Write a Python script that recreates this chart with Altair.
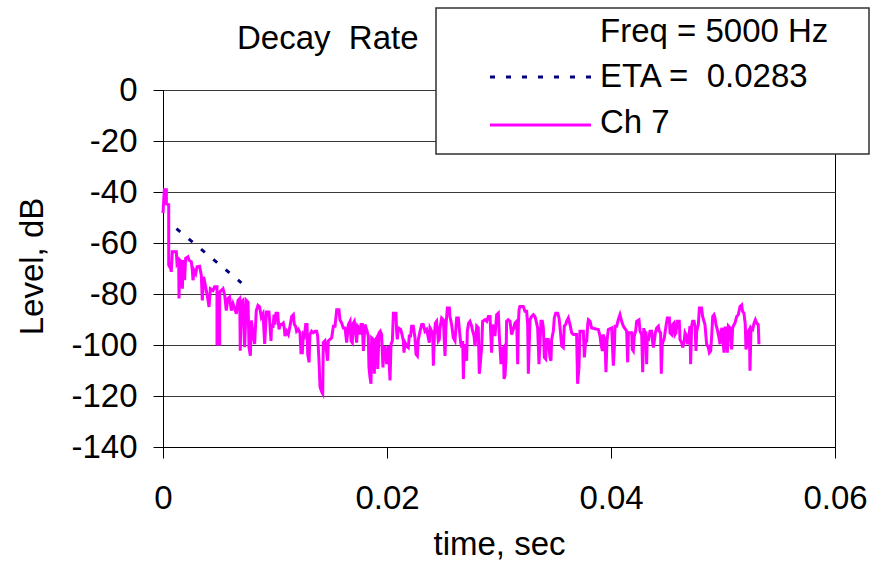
import altair as alt
import pandas as pd

FONT = "Liberation Sans"

# ---- data: (time in ms, level in dB) ----
seg_a = [(0.00, -48.3), (0.12, -39.1), (0.30, -39.1), (0.30, -44.6), (0.51, -45.0), (0.51, -68.7),
         (0.68, -70.0), (0.74, -71.3), (0.83, -63.4), (1.19, -63.4), (1.25, -68.0), (1.40, -66.7),
         (1.43, -81.8), (1.49, -66.7), (1.64, -67.4), (1.73, -77.9), (1.79, -66.7), (1.93, -74.6),
         (2.02, -66.0), (2.23, -65.4), (2.32, -66.7), (2.53, -67.4), (2.62, -70.7), (2.68, -74.6),
         (2.77, -70.7), (2.92, -72.0), (3.04, -69.3), (3.27, -69.1), (3.42, -72.6), (3.51, -82.5),
         (3.63, -73.3), (3.87, -78.6), (4.02, -82.5), (4.11, -85.1), (4.23, -77.9), (4.46, -78.6),
         (4.61, -77.2), (4.82, -77.2), (4.82, -99.6), (5.06, -99.6), (5.06, -79.2), (5.21, -78.6),
         (5.36, -77.9), (5.51, -80.5), (5.65, -86.5), (5.80, -81.8), (5.95, -81.2), (6.10, -86.5),
         (6.25, -83.8), (6.40, -85.8), (6.55, -87.8), (6.70, -82.5), (6.85, -81.8), (6.90, -102.2),
         (6.99, -83.2), (7.14, -82.5), (7.29, -100.9), (7.44, -82.5), (7.59, -83.2), (7.68, -100.9),
         (7.80, -104.2), (7.89, -90.4), (8.04, -95.7), (8.18, -99.6), (8.33, -86.5), (8.48, -84.5),
         (8.63, -85.1), (8.78, -89.1), (8.93, -87.8), (9.08, -99.6), (9.23, -87.1), (9.46, -87.1)]

seg_b = [(9.55, -92.0), (9.64, -98.4), (9.70, -92.0), (9.82, -93.3), (9.91, -88.1), (10.00, -92.0),
         (10.09, -87.5), (10.24, -87.5), (10.30, -90.7), (10.36, -93.9), (10.45, -92.0), (10.60, -92.0),
         (10.74, -91.4), (10.83, -93.3), (10.89, -96.5), (11.04, -94.6), (11.19, -95.9), (11.34, -92.6),
         (11.49, -88.8), (11.64, -88.1), (11.73, -92.0), (11.84, -92.6), (11.93, -94.6), (12.08, -93.9),
         (12.23, -95.2), (12.32, -103.0), (12.44, -103.0), (12.53, -95.9), (12.62, -96.5), (12.74, -92.0),
         (12.86, -92.0), (12.92, -103.6), (13.04, -106.8), (13.12, -95.9), (13.27, -94.6), (13.42, -95.2),
         (13.57, -94.6), (13.72, -94.6), (13.81, -96.5), (13.93, -106.2), (14.02, -116.5), (14.17, -118.4),
         (14.26, -119.1), (14.31, -99.1), (14.46, -98.4), (14.61, -103.0), (14.70, -106.2), (14.76, -98.4),
         (14.91, -97.8), (15.06, -97.2), (15.21, -92.6), (15.36, -92.6), (15.51, -86.2), (15.71, -86.2),
         (15.80, -90.1), (15.95, -91.4), (16.10, -93.3), (16.25, -93.3), (16.40, -99.1), (16.55, -92.0),
         (16.70, -90.7), (16.79, -98.4), (16.90, -99.1), (16.99, -91.4), (17.08, -90.7), (17.14, -92.6),
         (17.29, -99.1), (17.38, -92.6), (17.50, -93.3), (17.59, -95.9), (17.68, -92.0), (17.80, -92.0),
         (17.89, -102.3), (18.03, -92.0), (18.18, -93.9), (18.33, -96.5), (18.39, -108.8), (18.48, -112.6),
         (18.57, -115.2), (18.63, -97.2), (18.78, -97.8), (18.87, -111.3), (18.93, -98.4), (19.08, -97.2),
         (19.17, -109.4), (19.29, -95.2), (19.40, -94.6), (19.52, -95.9), (19.64, -108.8), (19.73, -101.0),
         (19.82, -101.0), (19.97, -107.5), (20.12, -100.4), (20.27, -113.9), (20.36, -99.7), (20.48, -98.4)]

seg_c = [(20.57, -87.5), (20.80, -87.5), (20.86, -94.6), (20.92, -97.8), (21.01, -93.3), (21.22, -93.9),
         (21.34, -95.9), (21.46, -98.4), (21.52, -103.0), (21.61, -99.1), (21.76, -100.4), (21.90, -101.0),
         (21.99, -96.5), (22.11, -96.5), (22.20, -92.6), (22.35, -92.6), (22.50, -97.2), (22.59, -103.6),
         (22.71, -104.3), (22.80, -97.8), (22.95, -94.6), (23.10, -92.0), (23.24, -92.0), (23.39, -94.6),
         (23.54, -93.9), (23.69, -97.2), (23.78, -99.1), (23.84, -93.3), (23.99, -94.6), (24.08, -96.5),
         (24.14, -108.1), (24.23, -95.9), (24.32, -91.4), (24.43, -90.7), (24.58, -98.4), (24.67, -97.8),
         (24.73, -93.3), (24.88, -89.4), (25.03, -90.1), (25.18, -104.3), (25.27, -92.0), (25.39, -85.5),
         (25.57, -85.5), (25.62, -88.8), (25.77, -92.0), (25.92, -97.2), (26.07, -98.4), (26.22, -89.4),
         (26.37, -89.4), (26.46, -93.9), (26.58, -99.1), (26.67, -101.0), (26.76, -98.4), (26.82, -113.3),
         (26.87, -105.5), (26.99, -99.7), (27.11, -106.2), (27.17, -94.6), (27.29, -91.4), (27.41, -90.7),
         (27.56, -92.6), (27.65, -94.6), (27.77, -96.5), (27.86, -100.4), (28.01, -92.6), (28.15, -93.3),
         (28.24, -111.3), (28.30, -108.8), (28.45, -101.0), (28.54, -90.7), (28.75, -90.1), (28.90, -90.7),
         (29.05, -88.8), (29.20, -88.8), (29.34, -103.0), (29.43, -92.0), (29.55, -93.9), (29.64, -96.5),
         (29.79, -88.1), (29.94, -87.5), (30.03, -96.5), (30.18, -107.5), (30.27, -101.7), (30.39, -101.0),
         (30.45, -113.3), (30.54, -112.0), (30.63, -104.9), (30.68, -90.7), (30.83, -90.1), (30.98, -90.7),
         (31.13, -95.9), (31.28, -93.9), (31.43, -91.4), (31.58, -90.7), (31.67, -107.5), (31.73, -91.4)]

seg_d = [(31.79, -86.2), (31.87, -84.9), (32.17, -84.9), (32.32, -86.8), (32.47, -86.8), (32.56, -92.0),
         (32.62, -111.3), (32.68, -102.3), (32.77, -90.1), (32.92, -88.8), (33.07, -88.1), (33.21, -88.8),
         (33.36, -91.4), (33.45, -93.3), (33.57, -107.5), (33.66, -99.1), (33.75, -90.7), (33.87, -90.7),
         (33.96, -93.3), (34.05, -104.9), (34.17, -105.5), (34.26, -97.8), (34.40, -97.8), (34.55, -104.9),
         (34.64, -106.2), (34.70, -97.8), (34.85, -94.6), (34.94, -89.4), (35.06, -87.5), (35.24, -87.5),
         (35.36, -89.4), (35.45, -93.3), (35.60, -100.4), (35.74, -101.0), (35.83, -92.6), (35.95, -92.0),
         (36.04, -90.7), (36.19, -89.4), (36.34, -92.0), (36.49, -95.2), (36.64, -95.9), (36.93, -95.9),
         (37.02, -115.2), (37.14, -108.8), (37.23, -94.6), (37.53, -94.6), (37.62, -104.9), (37.74, -98.4),
         (37.83, -98.4), (37.92, -92.0), (37.98, -90.1), (38.13, -90.7), (38.27, -93.3), (38.87, -93.9),
         (39.02, -96.5), (39.11, -99.7), (39.23, -102.3), (39.29, -95.9), (39.46, -97.8), (39.55, -110.7),
         (39.64, -98.4), (39.76, -93.9), (40.06, -93.3), (40.21, -108.1), (40.30, -101.0), (40.36, -92.6),
         (40.51, -92.6), (40.65, -90.1), (40.80, -88.1), (40.95, -90.7), (41.10, -92.6), (41.40, -94.6),
         (41.49, -106.8), (41.55, -95.2), (41.85, -95.2), (41.90, -101.7), (41.99, -102.3), (42.08, -96.5),
         (42.20, -94.6), (42.29, -90.7), (42.50, -90.1), (42.59, -94.6), (42.74, -95.9), (42.83, -110.7),
         (42.92, -93.9)]

seg_e = [(42.95, -93.9), (43.07, -95.9), (43.12, -94.6), (43.18, -107.5), (43.24, -97.2), (43.33, -98.4),
         (43.48, -94.6), (43.63, -94.6), (43.72, -99.1), (43.78, -101.0), (43.87, -98.4), (43.96, -95.2),
         (44.08, -93.3), (44.23, -92.6), (44.31, -94.6), (44.43, -95.2), (44.49, -111.3), (44.58, -99.7),
         (44.67, -98.4), (44.76, -97.2), (44.91, -92.6), (45.03, -89.4), (45.21, -89.4), (45.27, -95.2),
         (45.42, -95.9), (45.51, -92.0), (45.62, -91.4), (45.71, -95.9), (45.80, -95.2), (45.92, -90.7),
         (46.10, -90.7), (46.16, -97.8), (46.31, -99.1), (46.40, -101.0), (46.52, -99.1), (46.61, -95.2),
         (46.76, -96.5), (46.84, -99.7), (46.93, -97.8), (47.05, -92.6), (47.11, -107.5), (47.20, -92.6),
         (47.29, -90.7), (47.41, -90.7), (47.50, -92.6), (47.59, -102.3), (47.65, -94.6), (47.80, -92.0),
         (47.89, -85.5), (48.09, -85.5), (48.18, -88.8), (48.30, -90.7), (48.39, -92.0), (48.54, -99.7),
         (48.69, -101.0), (48.78, -103.0), (48.90, -102.3), (48.99, -96.5), (49.08, -88.8), (49.20, -88.1),
         (49.29, -89.4), (49.37, -92.0), (49.49, -93.9), (49.58, -95.9), (49.67, -97.8), (49.73, -99.7),
         (49.82, -94.6), (49.91, -93.3), (50.03, -99.7), (50.09, -103.0), (50.18, -93.3), (50.27, -93.3),
         (50.39, -103.0), (50.48, -92.6), (50.62, -93.3), (50.77, -101.7), (50.86, -93.3), (50.98, -92.0),
         (51.07, -91.4), (51.22, -88.8), (51.37, -88.1), (51.52, -84.9), (51.67, -84.3), (51.75, -86.8),
         (51.87, -87.5), (51.99, -92.0), (52.05, -101.7), (52.11, -100.4), (52.26, -94.6), (52.35, -93.9),
         (52.41, -110.1), (52.50, -93.3), (52.65, -93.9), (52.77, -91.4), (52.89, -90.1), (53.01, -91.4),
         (53.15, -92.0), (53.21, -99.7)]

fit_time_ms = [1.2, 7.0]
fit_level_db = [-54.4, -75.6]

x_tick_values = [0, 0.02, 0.04, 0.06]
y_tick_values = [0, -20, -40, -60, -80, -100, -120, -140]
legend_labels = ["Freq = 5000 Hz", "ETA =\u00a0 0.0283", "Ch 7"]
chart_title = "Decay\u00a0 Rate"
x_title = "time, sec"
y_title = "Level, dB"

# ---- tables ----
trace_pts = seg_a + seg_b + seg_c + seg_d + seg_e
trace = pd.DataFrame({
    "i": list(range(len(trace_pts))),
    "t": [p[0] / 1000.0 for p in trace_pts],
    "L": [p[1] for p in trace_pts],
})
fit = pd.DataFrame({"t": [v / 1000.0 for v in fit_time_ms], "L": fit_level_db})
one_row = pd.DataFrame({"k": [0]})

xs = alt.Scale(domain=[0, 0.06], nice=False, zero=False)
ys = alt.Scale(domain=[-140, 0], nice=False)

x_axis = alt.Axis(values=x_tick_values, labelExpr="datum.value + ''", labelFlush=False,
                  labelOverlap=False, grid=False, tickSize=11, labelPadding=24,
                  labelFont=FONT, labelFontSize=33, labelColor="black",
                  titleFont=FONT, titleFontSize=33, titleFontWeight="normal", titleColor="black",
                  titleBaseline="alphabetic", titleY=107,
                  domainColor="black", tickColor="black")
y_axis = alt.Axis(values=y_tick_values, labelExpr="datum.value + ''", labelOverlap=False,
                  grid=True, gridColor="#3a3a3a", gridWidth=1, tickSize=10, labelPadding=16,
                  labelFont=FONT, labelFontSize=33, labelColor="black",
                  titleFont=FONT, titleFontSize=33, titleFontWeight="normal", titleColor="black",
                  titleAngle=270, titleBaseline="alphabetic", titleAlign="center",
                  titleX=-121, titleY=176,
                  domainColor="black", tickColor="black")

X = alt.X("t:Q", scale=xs, axis=x_axis, title=x_title)
Y = alt.Y("L:Q", scale=ys, axis=y_axis, title=y_title)

trace_line = alt.Chart(trace).mark_line(color="#FF00FF", strokeWidth=3).encode(
    x=X, y=Y, order="i:Q")
fit_line = alt.Chart(fit).mark_line(color="#000080", strokeWidth=3, strokeDash=[5, 11]).encode(
    x=X, y=Y)

title_text = alt.Chart(one_row).mark_text(
    text=chart_title, align="left", baseline="alphabetic", font=FONT, fontSize=33, color="black"
).encode(x=alt.value(74), y=alt.value(-41))

legend_box = alt.Chart(one_row).mark_rect(fill="white", stroke="#303030", strokeWidth=1.5).encode(
    x=alt.value(273), x2=alt.value(706), y=alt.value(-82), y2=alt.value(64))
legend_fit = alt.Chart(one_row).mark_rule(color="#000080", strokeWidth=3, strokeDash=[5, 11]).encode(
    x=alt.value(327), x2=alt.value(428), y=alt.value(-13))
legend_ch = alt.Chart(one_row).mark_rule(color="#FF00FF", strokeWidth=3).encode(
    x=alt.value(327), x2=alt.value(428), y=alt.value(35))

legend_texts = []
for lab, yb in zip(legend_labels, [-48, -3, 43]):
    legend_texts.append(
        alt.Chart(one_row).mark_text(text=lab, align="left", baseline="alphabetic",
                                     font=FONT, fontSize=33, color="black")
        .encode(x=alt.value(437), y=alt.value(yb)))

chart = alt.layer(trace_line, fit_line, title_text, legend_box, legend_fit, legend_ch,
                  *legend_texts).properties(
    width=672, height=357,
    autosize=alt.AutoSizeParams(type="none"),
    padding={"left": 163, "top": 90, "right": 46, "bottom": 117},
    background="white",
).configure_view(stroke="black", strokeWidth=1)

chart.save("out.html", embed_options={"renderer": "svg", "actions": False})
